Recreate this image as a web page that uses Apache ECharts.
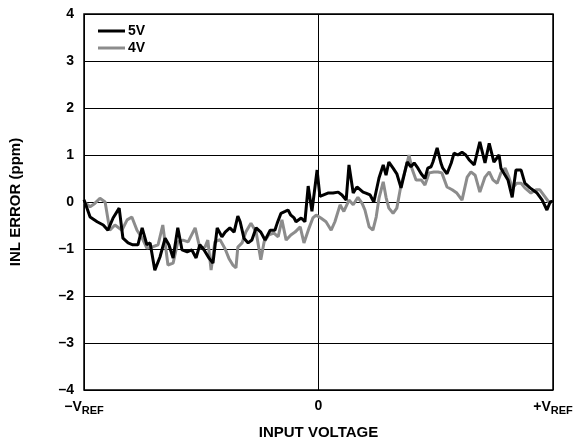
<!DOCTYPE html>
<html><head><meta charset="utf-8">
<script src="https://cdn.jsdelivr.net/npm/echarts@6/dist/echarts.min.js"></script>
<style>html,body{margin:0;padding:0;background:#fff}#c{width:574px;height:441px}</style>
</head><body><div id="c"></div>
<script>
// Input voltage in % of span (0 = -VREF, 50 = 0, 100 = +VREF)
const x5V = [0,1.3,2.8,4.1,5.1,6.2,7.5,8.3,9.4,10.4,11.5,12.4,13.4,14.1,15.1,16.2,17.3,18.1,19.0,20.0,20.9,22.0,23.0,23.9,24.7,25.6,26.7,27.5,28.4,29.4,30.1,31.1,32.0,32.8,33.3,34.1,35.0,35.8,36.7,37.7,38.6,39.7,40.7,41.2,42.0,42.9,43.5,44.1,44.8,45.2,46.3,47.1,47.8,48.6,49.7,50.3,50.7,52.0,53.1,54.2,55.0,55.9,56.5,57.4,58.2,58.6,59.5,60.1,61.0,61.8,62.9,63.8,64.4,65.0,65.9,66.7,67.6,68.9,69.7,70.4,71.2,71.9,72.7,73.3,74.0,74.4,75.3,76.1,76.5,77.4,78.3,78.9,79.7,80.6,81.4,82.1,83.2,84.4,85.5,86.4,87.4,88.5,88.9,90.4,91.3,92.1,93.2,94.0,95.1,96.6,97.7,98.7,99.4,100];
const y5V = [0.05,-0.32,-0.42,-0.49,-0.6,-0.34,-0.13,-0.77,-0.87,-0.91,-0.91,-0.55,-0.91,-0.87,-1.45,-1.17,-0.77,-0.91,-1.19,-0.55,-1.02,-1.06,-1.02,-1.19,-0.91,-1.02,-1.2,-1.3,-0.55,-0.74,-0.64,-0.55,-0.64,-0.3,-0.42,-0.77,-0.87,-0.81,-0.55,-0.64,-0.81,-0.6,-0.6,-0.45,-0.24,-0.2,-0.17,-0.28,-0.34,-0.42,-0.34,-0.42,0.34,-0.2,0.68,0.12,0.15,0.19,0.19,0.21,0.15,0.04,0.79,0.19,0.32,0.3,0.21,0.19,0.15,0.0,0.51,0.79,0.57,0.85,0.72,0.6,0.3,0.85,0.75,0.83,0.72,0.6,0.5,0.72,0.75,0.85,1.15,0.83,0.72,0.6,0.83,1.04,1.0,1.06,1.0,0.9,0.79,1.28,0.83,1.25,0.85,1.0,0.72,0.47,0.1,0.68,0.68,0.4,0.3,0.19,0.04,-0.17,0.0,0.02];
const x4V = [0,1.3,2.3,3.4,4.5,5.5,6.6,8.1,9.2,10.2,11.3,12.4,13.4,14.5,15.8,16.8,17.9,19.0,20.0,21.1,22.2,23.7,24.7,25.8,26.4,27.1,27.9,29.0,30.1,30.9,31.8,32.4,32.8,33.7,34.5,35.6,36.7,37.7,38.4,39.4,40.5,41.4,42.2,43.1,44.1,45.0,46.1,46.9,48.0,48.8,49.5,50.5,51.6,52.7,53.5,54.6,55.4,56.5,57.4,58.4,59.3,59.9,60.8,61.6,62.3,62.9,63.8,64.4,65.0,65.9,66.7,67.6,68.7,69.3,69.9,70.8,71.9,72.7,73.6,74.6,75.5,76.3,77.4,78.5,79.5,80.6,81.7,82.5,83.4,84.4,85.5,86.4,87.2,88.1,88.9,89.8,90.6,91.3,92.3,93.2,94.0,95.3,96.4,97.2,98.3,99.1,100];
const y4V = [0,-0.1,-0.03,0.08,0,-0.6,-0.49,-0.6,-0.38,-0.32,-0.6,-0.77,-0.98,-0.96,-0.91,-0.49,-1.34,-1.3,-0.85,-0.81,-0.85,-0.55,-0.98,-0.96,-0.81,-1.45,-0.85,-0.8,-1.0,-1.2,-1.35,-1.4,-0.96,-0.87,-0.64,-0.45,-0.64,-1.23,-0.85,-0.7,-0.66,-0.74,-0.38,-0.81,-0.7,-0.64,-0.53,-0.87,-0.55,-0.34,-0.28,-0.34,-0.42,-0.6,-0.42,-0.06,-0.2,0.04,-0.06,0.1,-0.03,-0.17,-0.53,-0.6,-0.32,0.08,0.43,0.1,-0.13,-0.24,-0.13,0.36,0.75,1.0,0.72,0.47,0.47,0.36,0.62,0.64,0.64,0.62,0.32,0.26,0.19,0.04,0.53,0.64,0.57,0.21,0.53,0.64,0.47,0.4,0.62,0.72,0.53,0.3,0.4,0.4,0.3,0.19,0.26,0.26,0.11,0,0];
const seriesNames = ['5V', '4V'];
const xTickLabels = {0: '−V{s|REF}', 50: '0', 100: '+V{s|REF}'};
const yTicks = [-4, -3, -2, -1, 0, 1, 2, 3, 4];

const pair = (xs, ys) => xs.map((x, i) => [x, ys[i]]);
const chart = echarts.init(document.getElementById('c'), null, {renderer: 'canvas'});
const bold = {fontFamily: 'Liberation Sans, Arial, sans-serif', fontWeight: 'bold', color: '#000'};
chart.setOption({
  animation: false,
  backgroundColor: '#fff',
  grid: {left: 84, right: 21, top: 14, bottom: 51, show: true, borderColor: '#000', borderWidth: 1.5,
         backgroundColor: 'transparent', containLabel: false, outerBoundsMode: 'none'},
  legend: {
    left: 93, top: 19, orient: 'vertical', itemGap: 3, itemWidth: 27, itemHeight: 3,
    icon: 'rect', textStyle: Object.assign({fontSize: 14, padding: [0, 0, 0, -2]}, bold),
    data: seriesNames
  },
  xAxis: {
    type: 'value', min: 0, max: 100, interval: 50,
    name: 'INPUT VOLTAGE', nameLocation: 'middle', nameGap: 35,
    nameTextStyle: Object.assign({fontSize: 15}, bold),
    axisLine: {show: false}, axisTick: {show: false},
    splitLine: {show: true, lineStyle: {color: '#000', width: 1}},
    axisLabel: Object.assign({
      fontSize: 14, margin: 9, hideOverlap: false,
      formatter: v => xTickLabels[v] !== undefined ? xTickLabels[v] : '',
      rich: {s: Object.assign({fontSize: 11, verticalAlign: 'bottom', padding: [6, 0, 0, 0]}, bold)}
    }, bold)
  },
  yAxis: {
    type: 'value', min: -4, max: 4, interval: 1,
    name: 'INL ERROR (ppm)', nameLocation: 'middle', nameGap: 61, nameRotate: 90,
    nameTextStyle: Object.assign({fontSize: 15}, bold),
    axisLine: {show: false}, axisTick: {show: false},
    splitLine: {show: true, lineStyle: {color: '#000', width: 1}},
    axisLabel: Object.assign({fontSize: 14, margin: 10,
      formatter: v => yTicks.includes(v) ? (v < 0 ? '–' + Math.abs(v) : String(v)) : ''}, bold)
  },
  series: [
    {name: seriesNames[0], type: 'line', data: pair(x5V, y5V), showSymbol: false, z: 3,
     lineStyle: {color: '#000', width: 3}, itemStyle: {color: '#000'}},
    {name: seriesNames[1], type: 'line', data: pair(x4V, y4V), showSymbol: false, z: 2,
     lineStyle: {color: '#8c8c8c', width: 3}, itemStyle: {color: '#8c8c8c'}}
  ]
});
</script></body></html>
